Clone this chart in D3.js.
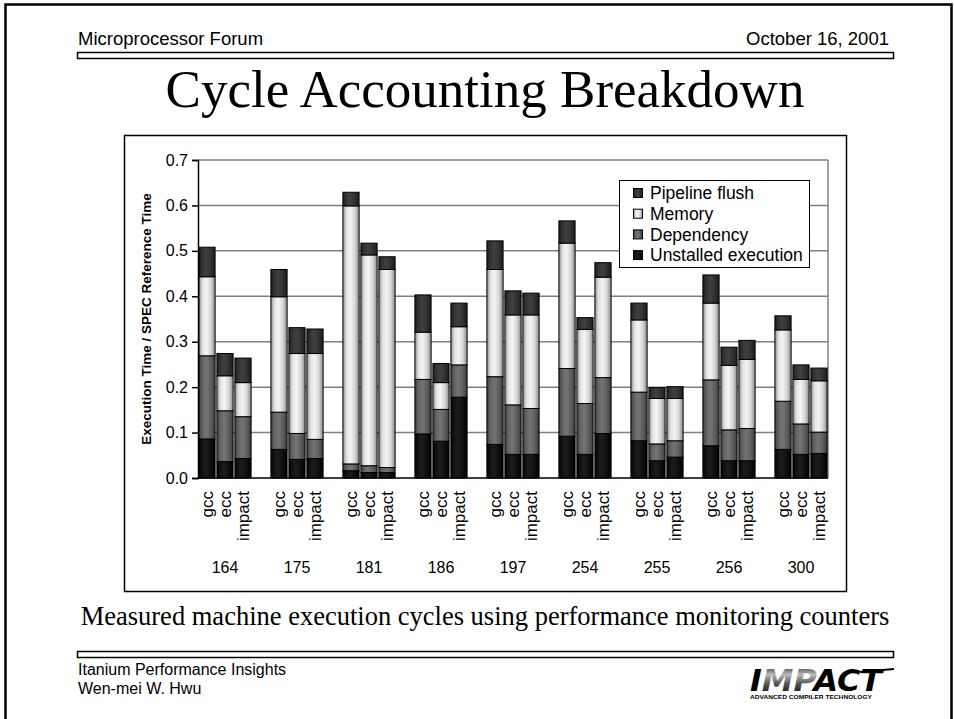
<!DOCTYPE html>
<html>
<head>
<meta charset="utf-8">
<script src="https://cdn.jsdelivr.net/npm/d3@7"></script>
<style>
  body { margin: 0; background: #fff; }
  svg { display: block; }
</style>
</head>
<body>
<script>
var width = 954,
    height = 719;

// data
var benchmarks = ["164", "175", "181", "186", "197", "254", "255", "256", "300"];
var compilers = ["gcc", "ecc", "impact"];
var seriesNames = ["Unstalled execution", "Dependency", "Memory", "Pipeline flush"];

var unstalled  = [0.086, 0.036, 0.043, 0.063, 0.041, 0.043, 0.016, 0.012, 0.012,
                  0.097, 0.081, 0.178, 0.074, 0.052, 0.052, 0.092, 0.052, 0.098,
                  0.082, 0.038, 0.046, 0.071, 0.038, 0.038, 0.063, 0.052, 0.054];
var dependency = [0.183, 0.112, 0.092, 0.082, 0.057, 0.042, 0.015, 0.015, 0.011,
                  0.120, 0.070, 0.071, 0.149, 0.109, 0.101, 0.149, 0.112, 0.123,
                  0.107, 0.037, 0.036, 0.145, 0.068, 0.071, 0.106, 0.067, 0.047];
var memory     = [0.174, 0.077, 0.075, 0.254, 0.176, 0.189, 0.568, 0.464, 0.436,
                  0.104, 0.059, 0.084, 0.236, 0.198, 0.206, 0.276, 0.163, 0.221,
                  0.159, 0.100, 0.093, 0.169, 0.142, 0.152, 0.157, 0.098, 0.113];
var flush      = [0.065, 0.049, 0.054, 0.060, 0.057, 0.054, 0.030, 0.026, 0.028,
                  0.082, 0.042, 0.052, 0.063, 0.053, 0.048, 0.049, 0.026, 0.032,
                  0.037, 0.024, 0.026, 0.062, 0.040, 0.042, 0.031, 0.032, 0.028];

var yTicks = [0, 0.1, 0.2, 0.3, 0.4, 0.5, 0.6, 0.7];

var sans = "'Liberation Sans', Arial, sans-serif";
var serif = "'Liberation Serif', 'Times New Roman', serif";

var svg = d3.select("body").append("svg")
    .attr("width", width)
    .attr("height", height);

var defs = svg.append("defs");

// shaded "cylinder" fills like the old Excel bars
var shades = {
    "Unstalled execution": ["#000", "#141414", "#1c1c1c", "#0e0e0e", "#000"],
    "Dependency": ["#3c3c3c", "#626262", "#747474", "#5e5e5e", "#3a3a3a"],
    "Memory": ["#8a8a8a", "#dcdcdc", "#f6f6f6", "#d4d4d4", "#8a8a8a"],
    "Pipeline flush": ["#1e1e1e", "#333", "#404040", "#303030", "#1c1c1c"]
};
seriesNames.forEach(function (name, i) {
    var g = defs.append("linearGradient")
        .attr("id", "grad" + i)
        .attr("x1", 0).attr("x2", 1).attr("y1", 0).attr("y2", 0);
    var offs = [0, 0.2, 0.45, 0.75, 1];
    shades[name].forEach(function (c, k) {
        g.append("stop").attr("offset", offs[k]).attr("stop-color", c);
    });
});

// slide frame (bottom edge falls off the page)
svg.append("rect")
    .attr("x", 5.5).attr("y", 4.5)
    .attr("width", 946).attr("height", 730)
    .attr("fill", "none").attr("stroke", "#000").attr("stroke-width", 2.5);

svg.append("text")
    .attr("x", 78).attr("y", 45)
    .style("font-family", sans).style("font-size", "18.5px")
    .text("Microprocessor Forum");
svg.append("text")
    .attr("x", 889).attr("y", 45)
    .attr("text-anchor", "end")
    .style("font-family", sans).style("font-size", "18.5px")
    .text("October 16, 2001");

svg.append("rect")
    .attr("x", 77.5).attr("y", 52.5).attr("width", 816).attr("height", 6)
    .attr("fill", "#fff").attr("stroke", "#000").attr("stroke-width", 1.5);

svg.append("text")
    .attr("x", 485).attr("y", 107)
    .attr("text-anchor", "middle")
    .style("font-family", serif).style("font-size", "53px")
    .text("Cycle Accounting Breakdown");

// chart box
svg.append("rect")
    .attr("x", 124.5).attr("y", 135.5).attr("width", 722).attr("height", 456)
    .attr("fill", "#fff").attr("stroke", "#000").attr("stroke-width", 1.5);

var plot = {left: 198, right: 828, top: 160, bottom: 478};

// slots: three bars per benchmark, an empty slot between groups
var slots = [];
benchmarks.forEach(function (b, i) {
    compilers.forEach(function (c) { slots.push(b + "-" + c); });
    if (i < benchmarks.length - 1) slots.push("gap" + i);
});

var x = d3.scaleBand()
    .domain(slots)
    .range([plot.left, plot.right])
    .paddingInner(0.1)
    .paddingOuter(0.05);

var y = d3.scaleLinear()
    .domain([0, 0.7])
    .range([plot.bottom, plot.top]);

// gridlines
svg.append("g")
    .selectAll("line")
    .data(yTicks.slice(1))
    .enter().append("line")
    .attr("x1", plot.left).attr("x2", plot.right)
    .attr("y1", function (d) { return y(d); })
    .attr("y2", function (d) { return y(d); })
    .attr("stroke", "#808080").attr("stroke-width", 1.5);

svg.append("line")
    .attr("x1", plot.right).attr("x2", plot.right)
    .attr("y1", plot.top).attr("y2", plot.bottom)
    .attr("stroke", "#808080").attr("stroke-width", 1.5);

// stacked bars
var rows = [];
benchmarks.forEach(function (b, i) {
    compilers.forEach(function (c, j) {
        var k = i * 3 + j;
        rows.push({
            key: b + "-" + c,
            "Unstalled execution": unstalled[k],
            "Dependency": dependency[k],
            "Memory": memory[k],
            "Pipeline flush": flush[k]
        });
    });
});

var stack = d3.stack().keys(seriesNames);
var layers = stack(rows);

var layer = svg.append("g").selectAll("g")
    .data(layers)
    .enter().append("g")
    .attr("fill", function (d, i) { return "url(#grad" + i + ")"; });

layer.selectAll("rect")
    .data(function (d) { return d; })
    .enter().append("rect")
    .attr("x", function (d) { return x(d.data.key); })
    .attr("width", x.bandwidth())
    .attr("y", function (d) { return y(d[1]); })
    .attr("height", function (d) { return y(d[0]) - y(d[1]); })
    .attr("stroke", "#000")
    .attr("stroke-width", 1);

// axes
var yAxis = svg.append("g")
    .attr("transform", "translate(" + plot.left + ",0)")
    .call(d3.axisLeft(y).tickValues(yTicks).tickFormat(d3.format(".1f")).tickSizeOuter(0).tickSize(6));
yAxis.select(".domain").attr("stroke", "#000").attr("stroke-width", 1.5);
yAxis.selectAll(".tick line").attr("stroke", "#000").attr("stroke-width", 1.5);
yAxis.selectAll(".tick text")
    .attr("x", -10)
    .style("font-family", sans).style("font-size", "16px").attr("fill", "#000");

svg.append("line")
    .attr("x1", plot.left).attr("x2", plot.right)
    .attr("y1", plot.bottom).attr("y2", plot.bottom)
    .attr("stroke", "#000").attr("stroke-width", 1.5);

// compiler labels (rotated)
svg.append("g").selectAll("text")
    .data(rows)
    .enter().append("text")
    .attr("transform", function (d) {
        return "translate(" + (x(d.key) + x.bandwidth() / 2) + ",491) rotate(-90)";
    })
    .attr("text-anchor", "end")
    .attr("dy", "0.35em")
    .style("font-family", sans).style("font-size", "17px")
    .text(function (d) { return d.key.split("-")[1]; });

// benchmark labels
svg.append("g").selectAll("text")
    .data(benchmarks)
    .enter().append("text")
    .attr("x", function (d) { return x(d + "-ecc") + x.bandwidth() / 2; })
    .attr("y", 573)
    .attr("text-anchor", "middle")
    .style("font-family", sans).style("font-size", "16px")
    .text(function (d) { return d; });

// y title
svg.append("text")
    .attr("transform", "translate(146,319) rotate(-90)")
    .attr("text-anchor", "middle")
    .attr("dy", "0.35em")
    .style("font-family", sans).style("font-size", "13.5px").style("font-weight", "bold")
    .text("Execution Time / SPEC Reference Time");

// legend
var legend = svg.append("g").attr("transform", "translate(619,180)");
legend.append("rect")
    .attr("x", 0.5).attr("y", 0.5).attr("width", 190).attr("height", 87)
    .attr("fill", "#fff").attr("stroke", "#000").attr("stroke-width", 1);

var legendOrder = seriesNames.slice().reverse();
var item = legend.selectAll(".item")
    .data(legendOrder)
    .enter().append("g")
    .attr("class", "item")
    .attr("transform", function (d, i) { return "translate(0," + (13 + i * 20.7) + ")"; });
item.append("rect")
    .attr("x", 14.5).attr("y", -4.5).attr("width", 9).attr("height", 9)
    .attr("fill", function (d) { return "url(#grad" + seriesNames.indexOf(d) + ")"; })
    .attr("stroke", "#000").attr("stroke-width", 1);
item.append("text")
    .attr("x", 31).attr("dy", "0.35em")
    .style("font-family", sans).style("font-size", "17.5px")
    .text(function (d) { return d; });

// caption + footer
svg.append("text")
    .attr("x", 485).attr("y", 625)
    .attr("text-anchor", "middle")
    .style("font-family", serif).style("font-size", "26.5px")
    .text("Measured machine execution cycles using performance monitoring counters");

svg.append("rect")
    .attr("x", 77.5).attr("y", 651.5).attr("width", 816).attr("height", 6)
    .attr("fill", "#fff").attr("stroke", "#000").attr("stroke-width", 1.5);

svg.append("text")
    .attr("x", 78).attr("y", 675)
    .style("font-family", sans).style("font-size", "16px")
    .text("Itanium Performance Insights");
svg.append("text")
    .attr("x", 78).attr("y", 694)
    .style("font-family", sans).style("font-size", "16px")
    .text("Wen-mei W. Hwu");

// IMPACT logo
var lg = defs.append("linearGradient")
    .attr("id", "logoGrad").attr("x1", 0).attr("x2", 0).attr("y1", 0).attr("y2", 1);
lg.append("stop").attr("offset", 0).attr("stop-color", "#000");
lg.append("stop").attr("offset", 0.35).attr("stop-color", "#bbb");
lg.append("stop").attr("offset", 0.6).attr("stop-color", "#555");
lg.append("stop").attr("offset", 1).attr("stop-color", "#000");

svg.append("line")
    .attr("x1", 860).attr("x2", 894)
    .attr("y1", 672).attr("y2", 669)
    .attr("stroke", "#000").attr("stroke-width", 2);

var logo = svg.append("text")
    .attr("x", 750).attr("y", 691)
    .attr("textLength", 132).attr("lengthAdjust", "spacingAndGlyphs")
    .style("font-family", "'DejaVu Sans Condensed', 'DejaVu Sans', sans-serif")
    .style("font-size", "31px").style("font-weight", "bold").style("font-style", "italic");
logo.append("tspan").text("I");
logo.append("tspan").attr("fill", "url(#logoGrad)").text("MP");
logo.append("tspan").text("ACT");

svg.append("text")
    .attr("x", 750).attr("y", 699)
    .attr("textLength", 122).attr("lengthAdjust", "spacingAndGlyphs")
    .style("font-family", sans).style("font-size", "5.5px").style("font-weight", "bold")
    .text("ADVANCED COMPILER TECHNOLOGY");
</script>
</body>
</html>
